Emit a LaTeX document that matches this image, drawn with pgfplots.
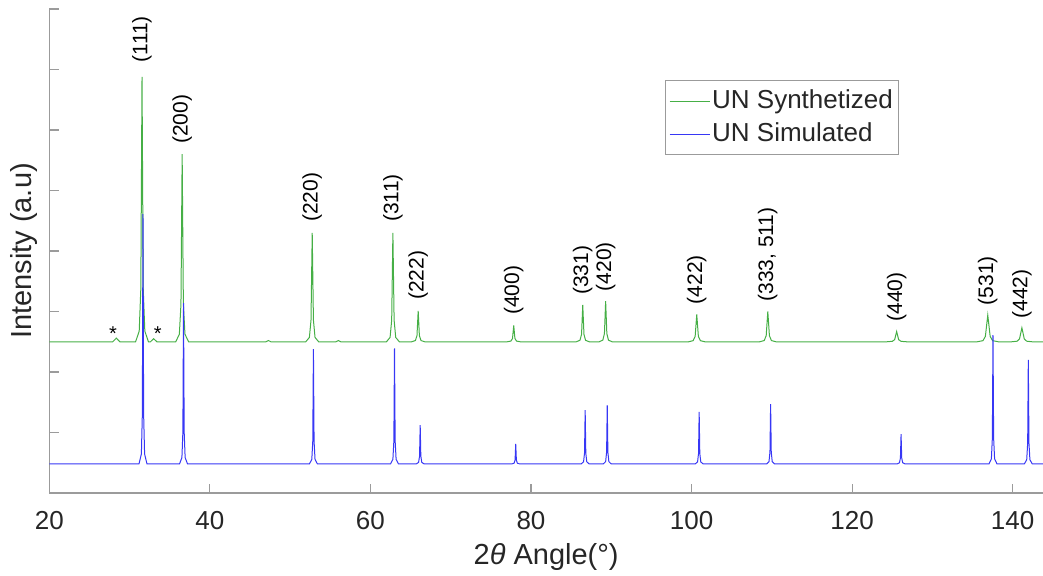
\documentclass[border=0pt]{standalone}
\usepackage{pgfplots}
\pgfplotsset{compat=1.18}
\usepackage{fontspec}
\setmainfont{Liberation Sans}
\definecolor{synth}{RGB}{70,175,70}
\definecolor{simul}{RGB}{55,55,245}
\definecolor{axgray}{RGB}{155,155,155}
\definecolor{txt}{RGB}{38,38,38}
\begin{document}
\begin{tikzpicture}
\path[use as bounding box] (-49.3bp,-83bp) rectangle (993.7bp,493bp);
\begin{axis}[
  at={(0,0)}, anchor=south west,
  scale only axis, width=993.7bp, height=484bp,
  xmin=20, xmax=143.78, ymin=0, ymax=8,
  axis x line*=bottom, axis y line*=left,
  axis line style={axgray, line width=1.2bp, -},
  xtick={20,40,...,140}, ytick={0,1,...,8}, yticklabels={},
  tick align=inside, major tick length=9.5bp,
  tick style={axgray, line width=1.2bp},
  /pgf/number format/assume math mode=true,
  xticklabel style={font=\fontsize{26bp}{30bp}\selectfont, text=txt, anchor=north, inner sep=0pt, yshift=-18bp},
  xlabel={2{\itshape θ} Angle(°)},
  ylabel={Intensity (a.u)},
  xlabel style={font=\fontsize{29bp}{34bp}\selectfont, text=txt, at={(axis description cs:0.5,-0.133)}, anchor=center},
  ylabel style={font=\fontsize{29bp}{34bp}\selectfont, text=txt, at={(axis description cs:-0.0252,0.5)}, anchor=center},
  legend style={at={(axis description cs:0.8554,0.8533)}, anchor=north east, draw=axgray, line width=1bp, fill=white,
     inner sep=4bp, row sep=0bp, font=\fontsize{26bp}{30bp}\selectfont, text=txt,
     nodes={inner xsep=2bp, inner ysep=3.5bp, text height=20bp, text depth=6bp}},
  legend cell align=left,
  legend image code/.code={\draw[#1, draw=., line width=1bp] (0bp,0bp) -- (40bp,0bp);},
]
\addplot[synth, line width=1bp] coordinates {
(20,2.5)(27.9,2.5)(28.35,2.56)(28.8,2.5)
(30.75,2.5)(31.2,2.675)(31.4,3.376)(31.55,6.88)(31.7,3.376)(31.9,2.675)(32.35,2.5)
(32.6,2.5)(33.0,2.55)(33.4,2.5)
(35.75,2.5)(36.2,2.624)(36.4,3.12)(36.55,5.60)(36.7,3.12)(36.9,2.624)(37.35,2.5)
(47.0,2.5)(47.3,2.52)(47.6,2.5)
(51.95,2.5)(52.4,2.572)(52.6,2.86)(52.75,4.30)(52.9,2.86)(53.1,2.572)(53.55,2.5)
(55.7,2.5)(56.0,2.52)(56.3,2.5)
(62.0,2.5)(62.45,2.572)(62.65,2.86)(62.8,4.30)(62.95,2.86)(63.15,2.572)(63.6,2.5)
(65.15,2.5)(65.6,2.52)(65.8,2.60)(65.95,3.01)(66.1,2.60)(66.3,2.52)(66.75,2.5)
(77.05,2.5)(77.5,2.511)(77.7,2.554)(77.85,2.77)(78.0,2.554)(78.2,2.511)(78.65,2.5)
(85.65,2.5)(86.1,2.524)(86.3,2.622)(86.45,3.11)(86.6,2.622)(86.8,2.524)(87.25,2.5)
(88.5,2.5)(88.95,2.527)(89.15,2.634)(89.3,3.17)(89.45,2.634)(89.65,2.527)(90.1,2.5)
(99.65,2.5)(100.2,2.518)(100.45,2.59)(100.65,2.95)(100.85,2.59)(101.1,2.518)(101.65,2.5)
(108.5,2.5)(109.05,2.52)(109.3,2.60)(109.5,3.00)(109.7,2.60)(109.95,2.52)(110.5,2.5)
(124.35,2.5)(125.0,2.507)(125.3,2.534)(125.55,2.67)(125.8,2.534)(126.1,2.507)(126.75,2.5)
(135.6,2.5)(136.3,2.518)(136.6,2.588)(136.9,2.94)(137.2,2.588)(137.5,2.518)(138.2,2.5)
(139.9,2.5)(140.55,2.509)(140.85,2.546)(141.15,2.73)(141.45,2.546)(141.75,2.509)(142.4,2.5)
(144,2.5)
};
\addlegendentry{UN Synthetized}
\addplot[simul, line width=1bp] coordinates {
(20,0.48)
(31.17,0.48)(31.47,0.645)(31.59,1.306)(31.67,4.61)(31.75,1.306)(31.87,0.645)(32.17,0.48)
(36.22,0.48)(36.52,0.586)(36.64,1.012)(36.72,3.14)(36.8,1.012)(36.92,0.586)(37.22,0.48)
(52.4,0.48)(52.7,0.556)(52.82,0.86)(52.9,2.38)(52.98,0.86)(53.1,0.556)(53.4,0.48)
(62.5,0.48)(62.8,0.556)(62.92,0.86)(63.0,2.39)(63.08,0.86)(63.2,0.556)(63.5,0.48)
(65.7,0.48)(66.0,0.506)(66.12,0.608)(66.2,1.12)(66.28,0.608)(66.4,0.506)(66.7,0.48)
(77.6,0.48)(77.9,0.493)(78.02,0.546)(78.1,0.81)(78.18,0.546)(78.3,0.493)(78.6,0.48)
(86.25,0.48)(86.55,0.516)(86.67,0.658)(86.75,1.37)(86.83,0.658)(86.95,0.516)(87.25,0.48)
(89.0,0.48)(89.3,0.519)(89.42,0.674)(89.5,1.45)(89.58,0.674)(89.7,0.519)(90.0,0.48)
(100.45,0.48)(100.75,0.514)(100.87,0.652)(100.95,1.34)(101.03,0.652)(101.15,0.514)(101.45,0.48)
(109.35,0.48)(109.65,0.52)(109.77,0.678)(109.85,1.47)(109.93,0.678)(110.05,0.52)(110.35,0.48)
(125.6,0.48)(125.9,0.5)(126.02,0.579)(126.1,0.975)(126.18,0.579)(126.3,0.5)(126.6,0.48)
(137.05,0.48)(137.35,0.565)(137.47,0.906)(137.55,2.61)(137.63,0.906)(137.75,0.565)(138.05,0.48)
(141.45,0.48)(141.75,0.549)(141.87,0.824)(141.95,2.20)(142.03,0.824)(142.15,0.549)(142.45,0.48)
(144,0.48)
};
\addlegendentry{UN Simulated}
\begin{scope}[every node/.style={rotate=90, anchor=west, inner sep=0pt, font=\fontsize{21bp}{25bp}\selectfont, text=black}]
\node at (axis cs:31.55,7.12) {(111)};
\node at (axis cs:36.55,5.77) {(200)};
\node at (axis cs:52.75,4.48) {(220)};
\node at (axis cs:62.8,4.48) {(311)};
\node at (axis cs:65.95,3.19) {(222)};
\node at (axis cs:77.85,2.94) {(400)};
\node at (axis cs:86.45,3.27) {(331)};
\node at (axis cs:89.3,3.33) {(420)};
\node at (axis cs:100.65,3.12) {(422)};
\node at (axis cs:109.5,3.16) {(333, 511)};
\node at (axis cs:125.55,2.83) {(440)};
\node at (axis cs:136.9,3.10) {(531)};
\node at (axis cs:141.17,2.88) {(442)};
\end{scope}
\node[inner sep=0pt, font=\fontsize{20bp}{24bp}\selectfont] at (axis cs:27.93,2.64) {*};
\node[inner sep=0pt, font=\fontsize{20bp}{24bp}\selectfont] at (axis cs:33.5,2.64) {*};
\end{axis}
\end{tikzpicture}
\end{document}
